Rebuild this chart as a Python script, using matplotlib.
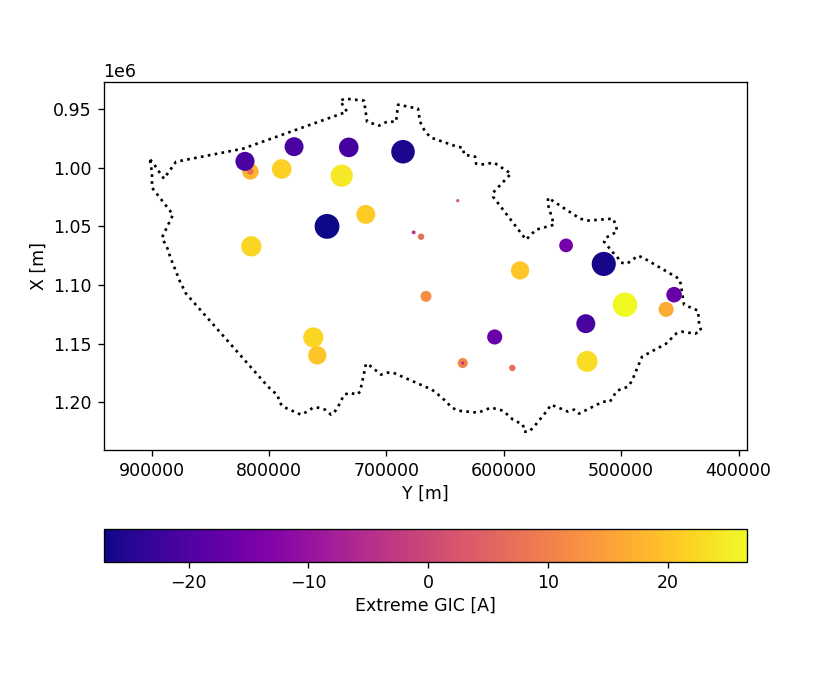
import matplotlib
matplotlib.use("Agg")
from matplotlib import pyplot as plt
from matplotlib.colors import Normalize

# Border outline, national grid coordinates [m]
border_y = [901300, 898700, 895300, 889400, 885900, 879100, 822100, 733500, 739400, 735200,
            719000, 716400, 706200, 699400, 691700, 690000, 673000, 671300, 667000, 661900,
            639800, 634700, 633800, 624400, 623600, 619300, 608300, 593800, 609100, 609100,
            581000, 572500, 557200, 562300, 562300, 535000, 529000, 506900, 504300, 503500,
            512900, 514600, 506900, 503500, 500100, 495000, 485600, 481300, 450700, 449000,
            448100, 446400, 434500, 433600, 431900, 437000, 448100, 453200, 461700, 482200,
            486500, 490700, 494100, 503500, 506900, 509500, 515400, 535900, 540100, 545200,
            559700, 563100, 574200, 578400, 582700, 583600, 592100, 600600, 610800, 621900,
            638900, 644000, 652600, 661100, 667000, 694300, 699400, 704500, 713900, 717300,
            719800, 722400, 725000, 730900, 736000, 741100, 744500, 747100, 752200, 758200,
            762400, 767500, 772700, 788000, 791400, 792300, 800800, 870600, 875700, 884200,
            885900, 891100, 881700, 899600, 899600, 900400, 901300]
border_x = [993200, 995700, 1000900, 1009400, 1004300, 994900, 983800, 952300, 942900, 941200,
            942900, 960800, 964200, 960800, 960800, 946300, 949700, 960800, 969300, 974400,
            982100, 983000, 988900, 990600, 996600, 997400, 995700, 1005100, 1021300, 1024700,
            1061300, 1052800, 1048600, 1031500, 1025600, 1043400, 1045100, 1043400, 1049400, 1054500,
            1059600, 1063000, 1072400, 1075800, 1080900, 1081800, 1075000, 1076700, 1094600, 1099700,
            1106500, 1116700, 1121800, 1132900, 1138800, 1141400, 1139700, 1141400, 1149900, 1161000,
            1171200, 1181400, 1186500, 1190000, 1195100, 1199300, 1199300, 1209500, 1206100, 1207800,
            1201900, 1207000, 1220600, 1224900, 1224900, 1218900, 1214700, 1207000, 1204400, 1208700,
            1207000, 1204400, 1195900, 1189100, 1186500, 1174600, 1174600, 1176300, 1168700, 1167000,
            1178900, 1190800, 1193400, 1191700, 1193400, 1203600, 1208700, 1210400, 1206100, 1204400,
            1204400, 1207800, 1210400, 1203600, 1199300, 1194200, 1186500, 1107300, 1097100, 1075800,
            1069800, 1059600, 1040000, 1017000, 1004300, 999100, 993200]

# Substations
site_y = [815800, 815800, 820400, 778600, 732000, 685800, 789100, 738000, 717500, 750500,
          815000, 676700, 670400, 639200, 546900, 514800, 586100, 666200, 454900, 496700,
          461700, 530100, 607700, 634900, 634900, 592700, 529000, 762200, 758800]
site_x = [1003200, 1003200, 994600, 982100, 982700, 986400, 1001100, 1006800, 1039800, 1050000,
          1067000, 1055100, 1058800, 1028100, 1066200, 1082000, 1087500, 1109600, 1108200, 1116700,
          1120700, 1132900, 1144200, 1166400, 1166400, 1170600, 1165000, 1144600, 1159900]
gic = [17.9, 7.0, -20.8, -20.7, -21.4, -25.7, 21.4, 24.3, 20.7, -27.1,
       22.1, -4.2, 7.0, 3.6, -15.0, -26.3, 20.0, 12.0, -17.0, 26.6,
       16.5, -20.7, -16.5, 11.0, -3.5, 7.0, 22.9, 22.0, 20.0]

plt.rcParams['font.size'] = 10.4

fig = plt.figure(figsize=(830 / 120, 684 / 120), dpi=120)
ax = fig.add_axes([103.5 / 830, 1 - 450 / 684, 643.5 / 830, 368 / 684])

ax.plot(border_y, border_x, color='k', lw=1.6, ls=(0, (1, 1.62)))
sizes = [(abs(g) * 0.55) ** 2 for g in gic]
sc = ax.scatter(site_y, site_x, s=sizes, c=gic, cmap='plasma',
                norm=Normalize(min(gic), max(gic)), linewidths=0, zorder=3)

ax.set_xlim(940900, 392800)
ax.set_ylim(1240500, 927000)
ax.set_xlabel('Y [m]', labelpad=3)
ax.set_ylabel('X [m]', labelpad=3)

cax = fig.add_axes([103.5 / 830, 1 - 562 / 684, 643.5 / 830, 33 / 684])
cbar = fig.colorbar(sc, cax=cax, orientation='horizontal')
cbar.set_label('Extreme GIC [A]', labelpad=3)

plt.savefig('out.png', dpi=120)
